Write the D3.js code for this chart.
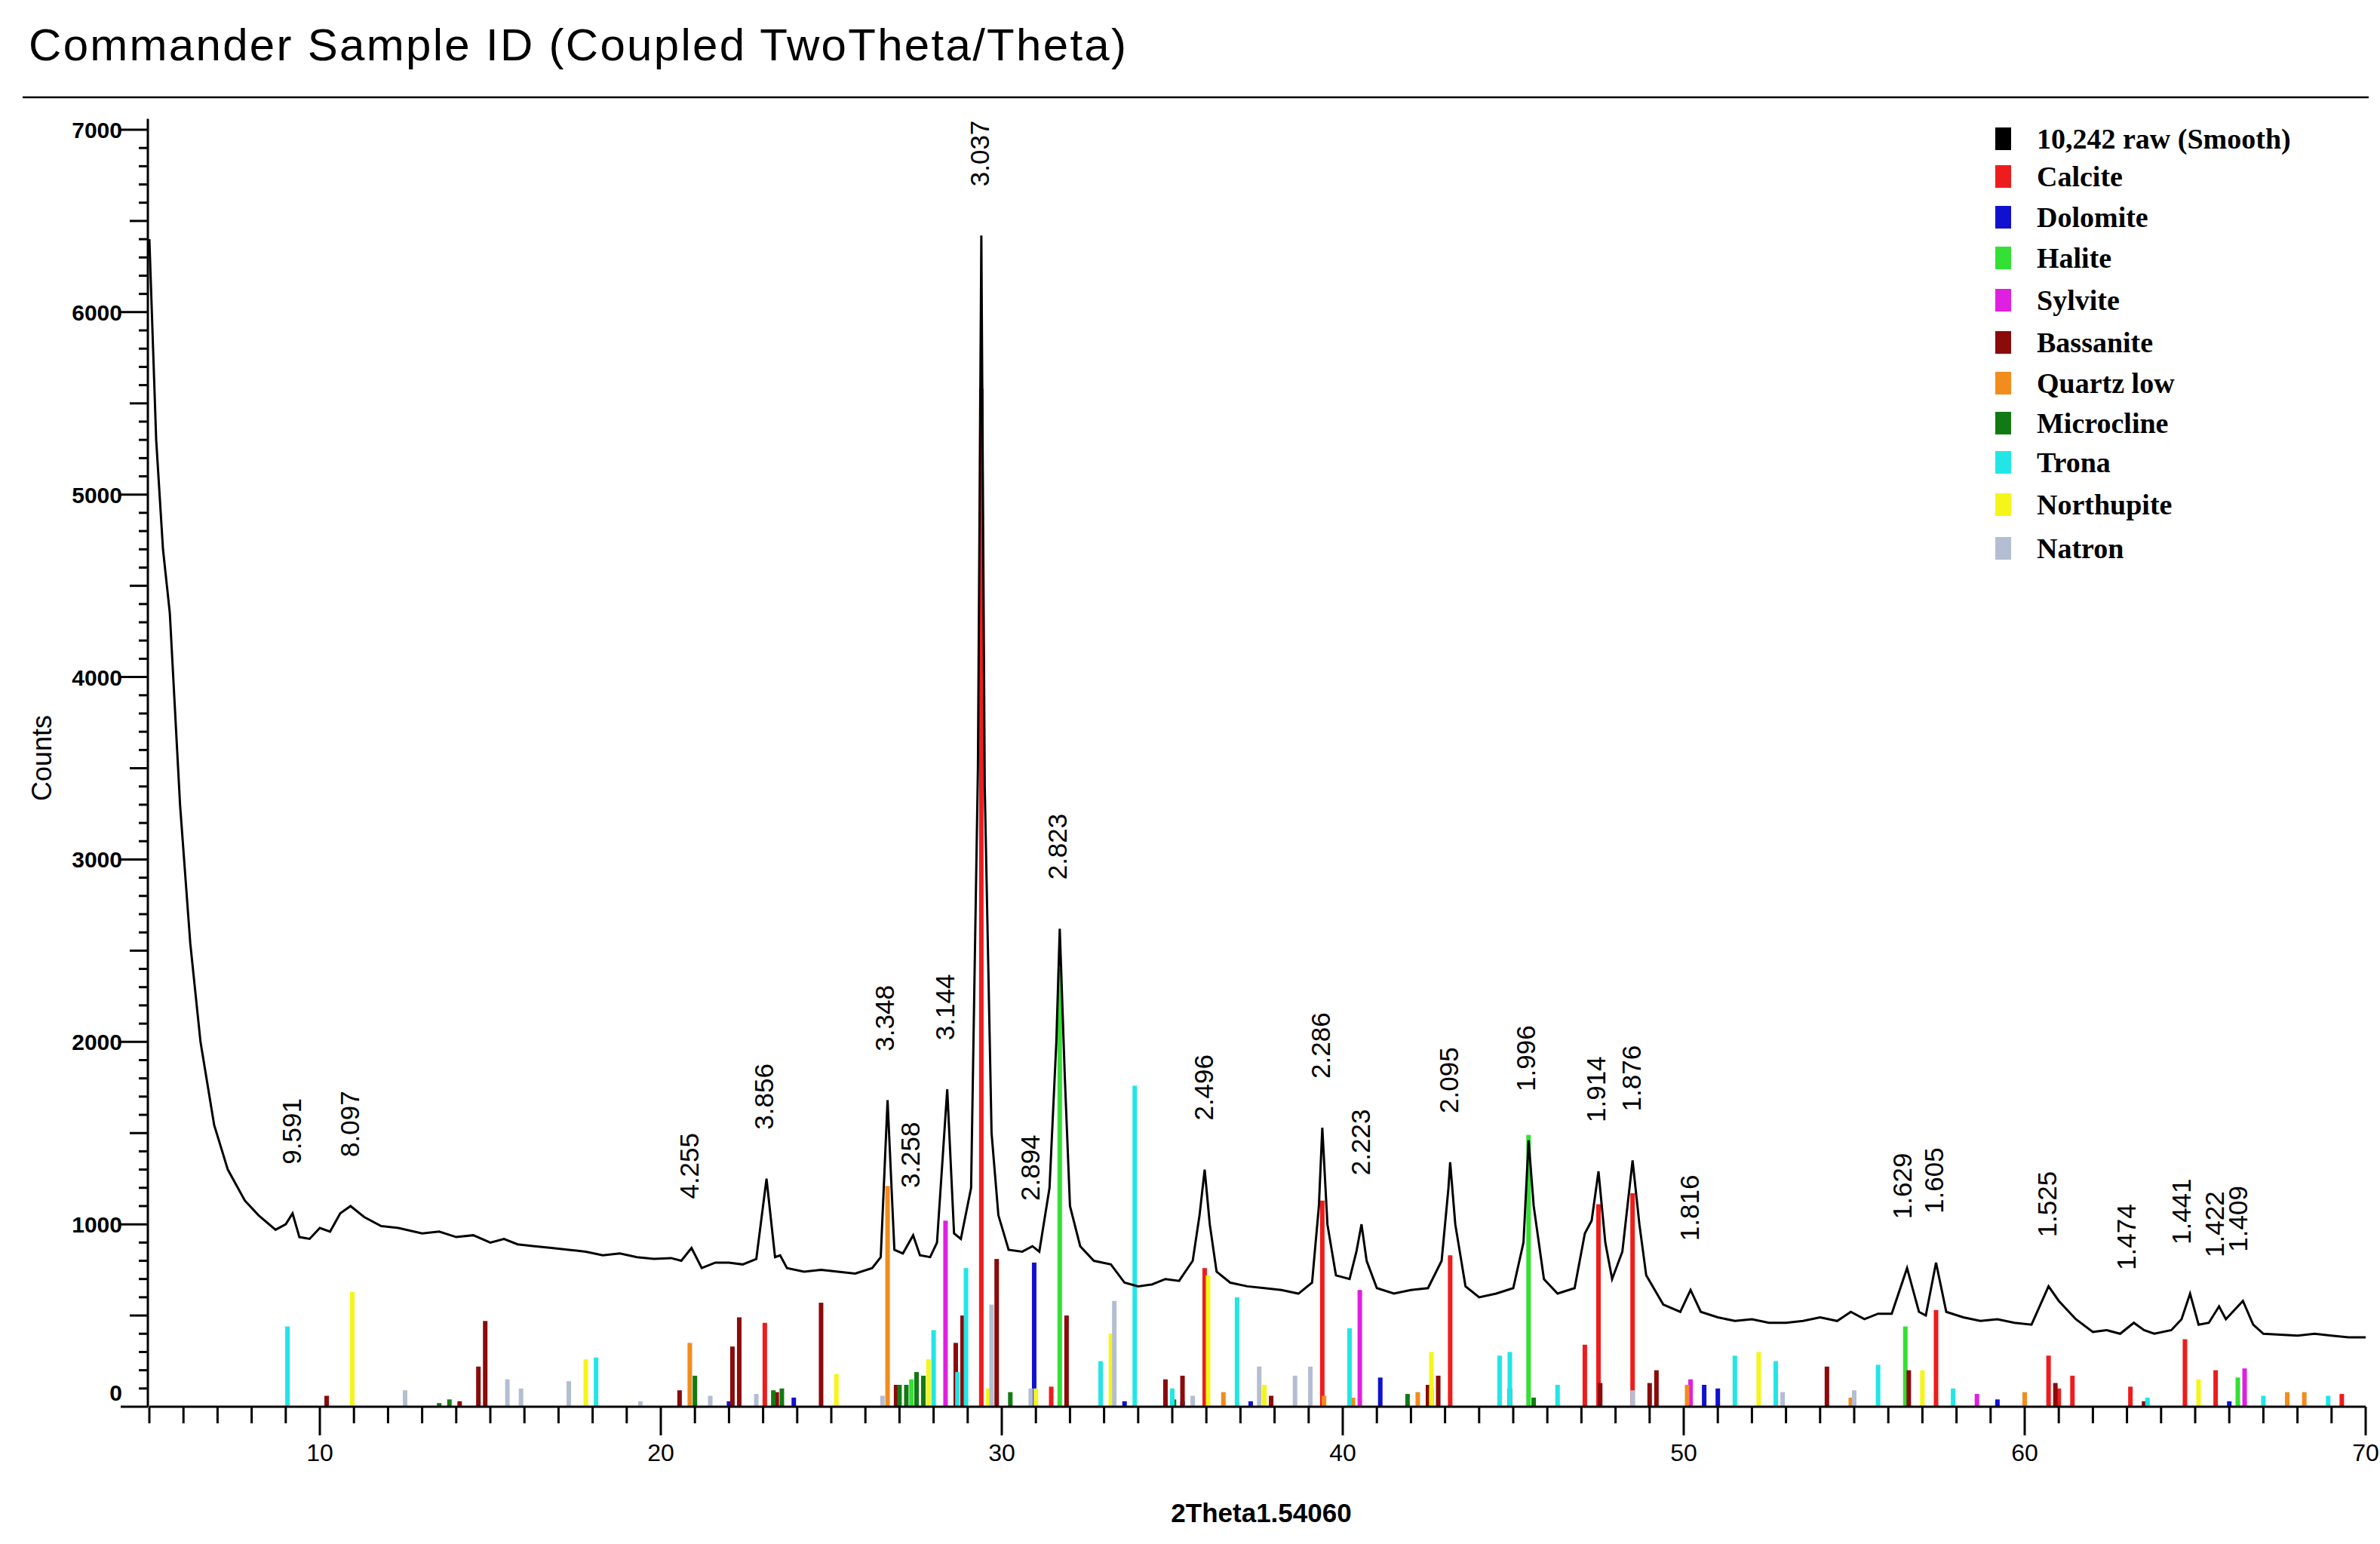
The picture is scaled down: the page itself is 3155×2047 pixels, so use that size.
<!DOCTYPE html>
<html><head><meta charset="utf-8">
<script src="https://cdn.jsdelivr.net/npm/d3@7"></script>
<style>body{margin:0;background:#fff}</style></head>
<body><svg id="c" width="3155" height="2047"></svg>
<script>
// Smoothed pattern: [2theta, counts]
const rawTrace = [[5.0,6400],[5.2,5300],[5.4,4700],[5.6,4350],[5.9,3300],[6.2,2540],[6.5,2000],[6.9,1545],[7.3,1300],[7.8,1130],[8.2,1050],[8.7,970],[9.0,1000],[9.2,1060],[9.4,930],[9.7,920],[10.0,980],[10.3,960],[10.6,1060],[10.9,1100],[11.3,1040],[11.8,990],[12.3,980],[13.0,950],[13.5,960],[14.0,930],[14.5,940],[15.0,900],[15.4,920],[15.8,890],[16.3,880],[16.8,870],[17.3,860],[17.8,850],[18.3,830],[18.8,840],[19.3,820],[19.8,810],[20.3,815],[20.6,800],[20.9,870],[21.2,760],[21.6,790],[22.0,790],[22.4,780],[22.8,810],[23.1,1250],[23.35,820],[23.5,830],[23.7,760],[24.2,740],[24.7,750],[25.2,740],[25.7,730],[26.2,760],[26.45,820],[26.65,1680],[26.85,860],[27.1,840],[27.4,940],[27.6,830],[27.9,820],[28.1,900],[28.4,1740],[28.6,950],[28.8,920],[29.1,1200],[29.3,3500],[29.4,6420],[29.5,3400],[29.7,1500],[29.9,1050],[30.2,860],[30.6,850],[30.9,880],[31.1,850],[31.4,1200],[31.6,2000],[31.7,2620],[31.85,1800],[32.0,1100],[32.3,880],[32.7,800],[33.2,780],[33.6,680],[34.0,660],[34.4,670],[34.8,700],[35.2,690],[35.6,800],[35.8,1050],[35.95,1300],[36.1,1000],[36.3,740],[36.7,680],[37.2,660],[37.7,650],[38.2,640],[38.7,620],[39.1,680],[39.3,1100],[39.4,1530],[39.55,1000],[39.8,720],[40.2,700],[40.4,850],[40.55,1000],[40.7,800],[41.0,650],[41.5,620],[42.0,640],[42.5,650],[42.9,800],[43.1,1200],[43.15,1340],[43.3,1000],[43.6,660],[44.0,600],[44.5,620],[45.0,650],[45.3,900],[45.45,1460],[45.6,1100],[45.9,700],[46.3,620],[46.8,650],[47.1,950],[47.3,1020],[47.5,1290],[47.7,900],[47.9,700],[48.2,850],[48.5,1350],[48.7,1000],[48.9,720],[49.4,560],[49.9,520],[50.2,640],[50.5,520],[51.0,490],[51.5,470],[52.0,480],[52.5,460],[53.0,460],[53.5,470],[54.0,490],[54.5,470],[54.9,520],[55.3,480],[55.7,510],[56.1,510],[56.55,760],[56.9,520],[57.1,500],[57.4,790],[57.7,520],[58.2,490],[58.7,470],[59.2,480],[59.7,460],[60.2,450],[60.7,660],[61.0,580],[61.5,480],[62.0,410],[62.4,420],[62.8,400],[63.2,460],[63.5,420],[63.8,400],[64.3,420],[64.6,480],[64.85,620],[65.1,450],[65.4,460],[65.7,550],[65.9,480],[66.4,580],[66.7,450],[67.0,400],[67.5,395],[68.0,390],[68.5,400],[69.0,390],[69.5,380],[70.0,380]];
const twoTheta = rawTrace.map(d=>d[0]);
const counts = rawTrace.map(d=>d[1]);

const phases = ["Calcite","Dolomite","Halite","Sylvite","Bassanite","Quartz low","Microcline","Trona","Northupite","Natron"];
const phaseColors = ["#ee1c1c","#1010d0","#33e033","#e020e0","#8b0a0a","#f28c1c","#127a12","#22e6e6","#f5f51a","#b4bed2"];

const calcite=[[23.05,460],[29.4,5580],[31.45,110],[35.95,760],[39.4,1130],[43.15,830],[47.1,340],[47.5,1110],[48.5,1170],[57.4,530],[60.7,280],[61.0,100],[61.4,170],[63.1,110],[64.7,370],[65.6,200],[69.3,70]];
const dolomite=[[22.0,30],[23.9,50],[30.95,790],[33.6,30],[35.3,30],[37.3,30],[41.1,160],[44.9,100],[50.6,120],[51.0,100],[59.2,40],[66.0,30]];
const halite=[[27.35,150],[31.7,2400],[45.45,1490],[56.5,440],[66.25,160]];
const sylvite=[[28.35,1020],[40.5,640],[50.2,150],[58.6,70],[66.45,210]];
const bassanite=[[10.2,60],[14.1,30],[14.65,220],[14.85,470],[20.55,90],[22.1,330],[22.3,490],[23.4,80],[24.7,570],[26.9,120],[28.65,350],[28.85,500],[29.85,810],[31.9,500],[34.8,150],[35.3,170],[37.9,60],[42.5,120],[42.8,170],[47.55,130],[49.0,130],[49.2,200],[54.2,220],[56.6,200],[60.9,130],[63.5,30]];
const quartz=[[20.85,350],[26.65,1210],[36.5,80],[39.45,60],[40.3,50],[42.2,80],[42.6,100],[50.1,120],[54.9,50],[60.0,80],[67.7,80],[68.2,80]];
const microcline=[[13.5,20],[13.8,40],[21.0,170],[23.3,90],[23.55,100],[27.0,120],[27.2,120],[27.5,190],[27.7,170],[30.25,80],[35.05,40],[41.9,70],[45.6,50]];
const trona=[[9.05,440],[18.1,270],[28.0,420],[28.7,190],[28.95,760],[32.9,250],[33.9,1760],[35.0,100],[36.9,600],[40.2,430],[44.6,280],[44.9,300],[46.3,120],[51.5,280],[52.7,250],[55.7,230],[57.9,100],[63.6,50],[67.0,60],[68.9,60]];
const northupite=[[10.95,630],[17.8,260],[25.15,180],[27.85,260],[29.6,100],[31.0,100],[33.2,400],[36.05,720],[37.7,120],[42.6,300],[52.2,300],[57.0,200],[65.1,150]];
const natron=[[12.5,90],[15.5,150],[15.9,100],[17.3,140],[19.4,30],[21.45,60],[22.8,70],[26.5,60],[29.7,560],[30.85,100],[33.3,580],[35.6,60],[37.55,220],[38.6,170],[39.05,220],[48.5,90],[52.9,80],[55.0,90]];
const sticks=[calcite,dolomite,halite,sylvite,bassanite,quartz,microcline,trona,northupite,natron];

const dLabels=["9.591","8.097","4.255","3.856","3.348","3.258","3.144","3.037","2.894","2.823","2.496","2.286","2.223","2.095","1.996","1.914","1.876","1.816","1.629","1.605","1.525","1.474","1.441","1.422","1.409"];
const dLabelHeights=[1060,1100,870,1250,1680,930,1740,6420,860,2620,1300,1530,1000,1340,1460,1290,1350,640,760,790,660,480,620,550,580];

const svg=d3.select("#c");
const x=d3.scaleLinear().domain([5,70]).range([198,3136]);
const y=d3.scaleLinear().domain([0,7000]).range([1865,172]);
const FONT="Arial, 'Liberation Sans', sans-serif";

svg.append("text").attr("x",38).attr("y",80).attr("font-family",FONT).attr("font-size",60)
  .attr("textLength",1455).attr("lengthAdjust","spacing").text("Commander Sample ID (Coupled TwoTheta/Theta)");
svg.append("line").attr("x1",30).attr("x2",3140).attr("y1",129).attr("y2",129).attr("stroke","#000").attr("stroke-width",2.5);

sticks.forEach((arr,i)=>{
  svg.append("g").selectAll("rect").data(arr).join("rect")
    .attr("x",d=>x(d[0])-3).attr("width",6)
    .attr("y",d=>y(d[1])).attr("height",d=>y(0)-y(d[1]))
    .attr("fill",phaseColors[i]);
});

svg.append("path").datum(twoTheta.map((t,i)=>[t,counts[i]]))
  .attr("d",d3.line().x(d=>x(d[0])).y(d=>y(d[1])))
  .attr("fill","none").attr("stroke","#000").attr("stroke-width",3);

const toTheta=d=>2*Math.asin(1.5406/(2*d))*180/Math.PI;
dLabels.forEach((l,i)=>{
  const tx=x(toTheta(+l))+11, ty=y(dLabelHeights[i])-65;
  svg.append("text").attr("transform",`translate(${tx},${ty}) rotate(-90)`)
    .attr("font-family",FONT).attr("font-size",35).text(l);
});

const gx=svg.append("g").attr("transform",`translate(0,${y(0)})`);
gx.append("line").attr("x1",x(5)).attr("x2",x(70)).attr("stroke","#000").attr("stroke-width",3);
gx.selectAll("line.t").data(d3.range(5,71,1)).join("line").attr("class","t")
  .attr("x1",d=>x(d)).attr("x2",d=>x(d)).attr("y1",0).attr("y2",d=>d%10===0?38:22)
  .attr("stroke","#000").attr("stroke-width",3);
gx.selectAll("text").data(d3.range(10,71,10)).join("text")
  .attr("x",d=>x(d)).attr("y",72).attr("text-anchor","middle")
  .attr("font-family",FONT).attr("font-size",32).text(d=>d);
svg.append("text").attr("x",1672).attr("y",2018).attr("text-anchor","middle").attr("font-family",FONT).attr("font-weight","bold").attr("font-size",35).text("2Theta1.54060");

const gy=svg.append("g");
gy.append("line").attr("x1",196).attr("x2",196).attr("y1",y(7060)).attr("y2",y(0)).attr("stroke","#000").attr("stroke-width",3);
gy.selectAll("line.t").data(d3.range(0,7001,100)).join("line").attr("class","t")
  .attr("x1",d=>d%1000===0?160:(d%500===0?172:184)).attr("x2",196)
  .attr("y1",d=>y(d)).attr("y2",d=>y(d)).attr("stroke","#000").attr("stroke-width",3);
gy.selectAll("text").data(d3.range(0,7001,1000)).join("text")
  .attr("x",162).attr("y",d=>d===0?y(d)-8:y(d)+11).attr("text-anchor","end")
  .attr("font-family",FONT).attr("font-weight","bold").attr("font-size",30).text(d=>d);
svg.append("text").attr("transform","translate(68,1005) rotate(-90)").attr("text-anchor","middle")
  .attr("font-family",FONT).attr("font-size",36).text("Counts");

const legNames=["10,242 raw (Smooth)"].concat(phases);
const legCols=["#000"].concat(phaseColors);
const legY=[185,235,289,343,399,455,509,562,614,670,728];
legNames.forEach((n,i)=>{
  svg.append("rect").attr("x",2645).attr("y",legY[i]-16).attr("width",21).attr("height",30).attr("fill",legCols[i]);
  svg.append("text").attr("x",2700).attr("y",legY[i]+12).attr("font-family","'Liberation Serif', 'Times New Roman', serif")
    .attr("font-weight","bold").attr("font-size",38).text(n);
});
</script></body></html>
